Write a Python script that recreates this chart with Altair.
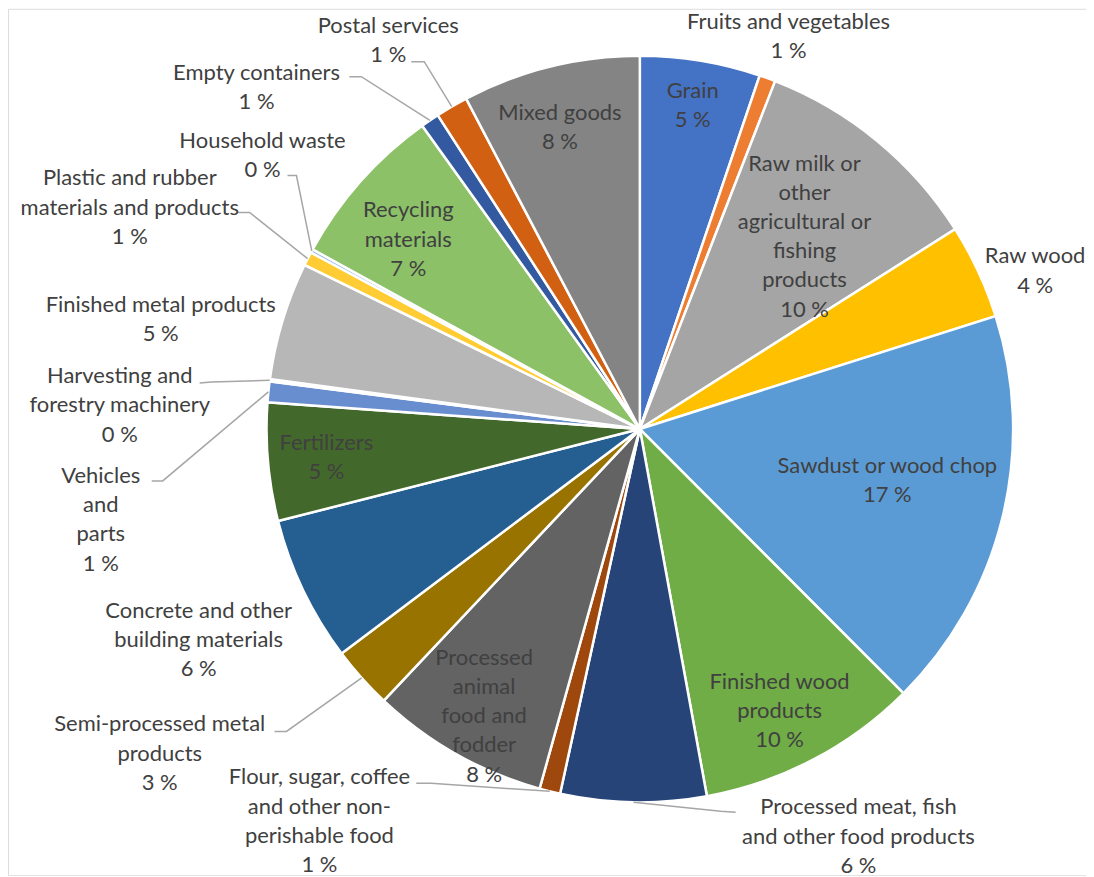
import altair as alt
import numpy as np
import pandas as pd

# ---------------- data ----------------
categories = [
    "Grain", "Fruits and vegetables",
    "Raw milk or other agricultural or fishing products", "Raw wood",
    "Sawdust or wood chop", "Finished wood products",
    "Processed meat, fish and other food products",
    "Flour, sugar, coffee and other non-perishable food",
    "Processed animal food and fodder", "Semi-processed metal products",
    "Concrete and other building materials", "Fertilizers",
    "Vehicles and parts", "Harvesting and forestry machinery",
    "Finished metal products", "Plastic and rubber materials and products",
    "Household waste", "Recycling materials", "Empty containers",
    "Postal services", "Mixed goods",
]
shares = [5.2, 0.7, 10.1, 4.1, 17.4, 9.6, 6.3, 0.9, 7.7, 2.7, 6.3, 5.1,
          0.9, 0.1, 5.1, 0.6, 0.15, 7.1, 0.8, 1.4, 7.7]
label_lines = [
    ["Grain"], ["Fruits and vegetables"],
    ["Raw milk or", "other", "agricultural or", "fishing", "products"],
    ["Raw wood"], ["Sawdust or wood chop"], ["Finished wood", "products"],
    ["Processed meat, fish", "and other food products"],
    ["Flour, sugar, coffee", "and other non-", "perishable food"],
    ["Processed", "animal", "food and", "fodder"],
    ["Semi-processed metal", "products"],
    ["Concrete and other", "building materials"], ["Fertilizers"],
    ["Vehicles", "and", "parts"], ["Harvesting and", "forestry machinery"],
    ["Finished metal products"],
    ["Plastic and rubber", "materials and products"],
    ["Household waste"], ["Recycling", "materials"], ["Empty containers"],
    ["Postal services"], ["Mixed goods"],
]

# ---------------- styles / layout ----------------
colors = ["#4472C4", "#ED7D31", "#A5A5A5", "#FFC000", "#5B9BD5", "#70AD47",
          "#264478", "#9E480E", "#636363", "#997300", "#255E91", "#43682B",
          "#698ED0", "#F1975A", "#B7B7B7", "#FFCD33", "#7CAFDD", "#8CC168",
          "#335AA1", "#D26012", "#848484"]
OFF = 8            # page margin
CX, CY, R = 641 - OFF, 429 - OFF, 374
LINE_H = 29.3
FONT_SIZE = 22
# label block centre x and first-line y (page pixels)
label_pos = [
    (694, 90), (790, 21), (806, 163), (1037, 256), (889, 466), (781, 682),
    (860, 808), (320, 778), (485, 658), (160, 725), (199, 611), (327, 443),
    (101, 476), (120, 376), (161, 305), (130, 178), (263, 140), (409, 210),
    (257, 72), (389, 25), (561, 112),
]
# leader lines: (elbow, end) page pixels
leaders = {
    "Processed meat, fish and other food products": ((722, 812), (737, 813)),
    "Flour, sugar, coffee and other non-perishable food": ((432, 784), (417, 784)),
    "Semi-processed metal products": ((287, 732), (275, 732)),
    "Vehicles and parts": ((163, 481), (152, 481)),
    "Harvesting and forestry machinery": ((212, 382), (200, 383)),
    "Plastic and rubber materials and products": ((250, 212), (238, 212)),
    "Household waste": ((297, 175), (288, 175)),
    "Empty containers": ((362, 76), (350, 76)),
    "Postal services": ((425, 61), (412, 61)),
}

total = float(sum(shares))
df = pd.DataFrame({"cat": categories, "share": shares,
                   "idx": list(range(len(categories)))})

# text rows
rows = []
for i, (c, v) in enumerate(zip(categories, shares)):
    lines = label_lines[i] + [f"{round(v / total * 100):.0f} %"]
    x0, y0 = label_pos[i]
    for j, t in enumerate(lines):
        rows.append({"cat": c, "t": t, "x": x0 - OFF, "y": y0 - OFF + j * LINE_H})
tdf = pd.DataFrame(rows)

# leader rows (start point on the slice edge, from the data)
cum = np.cumsum([0.0] + shares[:-1])
lrows = []
for i, (c, v) in enumerate(zip(categories, shares)):
    if c not in leaders:
        continue
    a = (cum[i] + v / 2) / total * 2 * np.pi
    sx, sy = CX + R * np.sin(a), CY - R * np.cos(a)
    (ex1, ey1), (ex2, ey2) = leaders[c]
    pts = [(sx, sy), (ex1 - OFF, ey1 - OFF), (ex2 - OFF, ey2 - OFF)]
    for k, (px, py) in enumerate(pts):
        lrows.append({"cat": c, "k": k, "x": px, "y": py})
ldf = pd.DataFrame(lrows)

arc = alt.Chart(df).mark_arc(radius=R, stroke="white", strokeWidth=2.5).encode(
    theta=alt.Theta("share:Q", stack=True),
    color=alt.Color("cat:N", scale=alt.Scale(domain=categories, range=colors),
                    legend=None),
    order=alt.Order("idx:Q"),
    x=alt.value(CX), y=alt.value(CY),
)

lead = alt.Chart(ldf).mark_line(color="#A6A6A6", strokeWidth=1.5).encode(
    x=alt.X("x:Q", scale=None, axis=None),
    y=alt.Y("y:Q", scale=None, axis=None),
    detail="cat:N",
    order=alt.Order("k:Q"),
)

text = alt.Chart(tdf).mark_text(font="Lato", fontSize=FONT_SIZE, color="#404040",
                                align="center", baseline="middle").encode(
    x=alt.X("x:Q", scale=None, axis=None),
    y=alt.Y("y:Q", scale=None, axis=None),
    text="t:N",
)

chart = alt.layer(arc, lead, text).properties(
    width=1080, height=868, autosize=alt.AutoSizeParams(type="none"), padding=0,
).configure_view(stroke=None).configure(background="white")

chart.save("out.html", embed_options={"renderer": "svg", "actions": False})
